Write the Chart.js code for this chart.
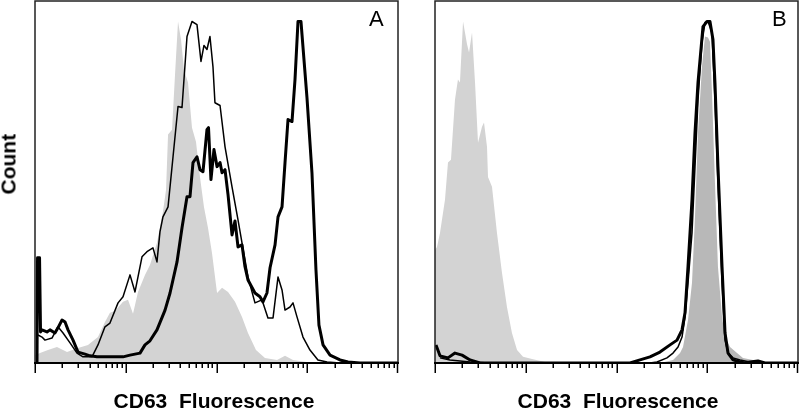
<!DOCTYPE html>
<html>
<head>
<meta charset="utf-8">
<script src="https://cdn.jsdelivr.net/npm/chart.js@4.4.0/dist/chart.umd.min.js"></script>
<style>
body{margin:0;background:#fff;width:800px;height:409px;position:relative;overflow:hidden;font-family:"Liberation Sans",Arial,sans-serif}
canvas{position:absolute;top:0}
.xlab{position:absolute;top:390px;width:300px;text-align:center;font-weight:bold;font-size:21px;line-height:21px;color:#000}
.ylab{position:absolute;left:-22px;top:154px;width:60px;text-align:center;font-weight:bold;font-size:21px;line-height:21px;transform:rotate(-90deg);color:#000}
.tag{position:absolute;top:8px;font-size:22px;line-height:22px;color:#000}
</style>
</head>
<body>
<canvas id="chartA" width="400" height="409" style="left:0"></canvas>
<canvas id="chartB" width="400" height="409" style="left:400px"></canvas>
<div class="ylab">Count</div>
<div class="xlab" style="left:64px">CD63&nbsp; Fluorescence</div>
<div class="xlab" style="left:468px">CD63&nbsp; Fluorescence</div>
<div class="tag" style="left:369px">A</div>
<div class="tag" style="left:772px">B</div>
<script>
// x = decades of fluorescence (10^0 .. 10^4), y = % of peak count

// panel A, isotype control (grey fill)
var grayAx = [0, 0.055, 0.143, 0.242, 0.353, 0.474, 0.584, 0.694, 0.771, 0.826, 0.882, 0.970, 1.025, 1.080, 1.135, 1.212, 1.267, 1.344, 1.410, 1.444, 1.466, 1.510, 1.543, 1.576, 1.609, 1.642, 1.686, 1.730, 1.774, 1.818, 1.862, 1.906, 1.950, 2.006, 2.061, 2.127, 2.204, 2.281, 2.347, 2.435, 2.534, 2.667, 2.755, 2.843, 2.997, 3.2]
var grayAy = [2.3, 2.9, 3.8, 4.7, 3.2, 4.4, 5.3, 7.6, 12.0, 14.7, 15.2, 17.9, 18.5, 14.4, 20.8, 25.8, 28.7, 35.2, 44.3, 50.7, 66.9, 68.3, 84.5, 100, 94.7, 85.9, 82.1, 68.9, 64.8, 54.5, 45.7, 39.6, 32.3, 20.5, 22.0, 20.8, 17.9, 13.5, 8.8, 3.8, 1.5, 0.9, 2.1, 0.9, 0.3, 0]

// panel A, thin line
var thinAx = [0.033, 0.077, 0.110, 0.187, 0.253, 0.309, 0.386, 0.463, 0.529, 0.628, 0.694, 0.771, 0.826, 0.915, 0.970, 1.047, 1.102, 1.179, 1.234, 1.300, 1.344, 1.377, 1.410, 1.466, 1.521, 1.576, 1.620, 1.675, 1.730, 1.785, 1.829, 1.862, 1.895, 1.928, 1.961, 1.983, 2.039, 2.094, 2.171, 2.237, 2.281, 2.347, 2.424, 2.501, 2.567, 2.623, 2.678, 2.722, 2.755, 2.810, 2.843, 2.887, 2.953, 3.030, 3.118, 3.218, 3.361, 4]
var thinAy = [8.2, 7.6, 6.7, 7.3, 10.6, 8.8, 5.9, 2.9, 1.8, 1.8, 5.3, 10.6, 11.7, 17.6, 19.4, 25.8, 20.8, 31.1, 32.6, 33.7, 29.6, 38.4, 42.8, 45.7, 60.4, 75.1, 74.8, 95.6, 100, 99.1, 88.3, 93.0, 91.8, 95.6, 86.8, 76.2, 75.4, 63.3, 51.6, 41.9, 35.2, 25.2, 17.6, 18.5, 13.2, 13.2, 25.2, 21.4, 15.5, 16.4, 17.6, 13.5, 7.6, 3.8, 0.9, 0.3, 0, 0]

// panel A, thick line
var thickAx = [0.022, 0.028, 0.050, 0.061, 0.077, 0.132, 0.165, 0.220, 0.253, 0.298, 0.331, 0.364, 0.419, 0.474, 0.551, 0.606, 0.683, 0.771, 0.882, 0.970, 1.047, 1.157, 1.212, 1.267, 1.344, 1.433, 1.488, 1.565, 1.620, 1.675, 1.708, 1.741, 1.785, 1.818, 1.851, 1.895, 1.912, 1.939, 1.972, 2.006, 2.039, 2.061, 2.094, 2.127, 2.171, 2.204, 2.237, 2.281, 2.314, 2.347, 2.424, 2.479, 2.512, 2.556, 2.590, 2.645, 2.678, 2.722, 2.755, 2.788, 2.832, 2.865, 2.898, 2.931, 2.942, 2.997, 3.052, 3.096, 3.129, 3.174, 3.251, 3.361, 3.449, 3.581, 4]
var thickAy = [0, 30.8, 30.8, 9.1, 9.7, 9.1, 9.7, 8.8, 10.3, 12.6, 12.0, 9.7, 6.7, 3.2, 2.6, 2.1, 1.8, 1.8, 1.8, 1.8, 2.3, 2.9, 5.3, 6.5, 9.7, 15.5, 20.5, 29.6, 39.6, 48.7, 48.7, 58.7, 60.4, 56.6, 56.0, 68.3, 68.9, 53.7, 62.5, 57.5, 58.7, 55.7, 56.6, 49.3, 37.5, 41.6, 34.0, 34.6, 28.2, 24.3, 20.5, 19.4, 17.9, 20.5, 27.9, 34.6, 42.8, 45.7, 58.7, 71.3, 70.7, 83.0, 100, 100, 96.2, 77.7, 55.7, 27.3, 11.1, 5.3, 2.3, 0.9, 0.3, 0, 0]

// panel B, isotype control (light grey fill)
var grayBx = [0, 0.022, 0.055, 0.110, 0.143, 0.176, 0.220, 0.253, 0.275, 0.309, 0.353, 0.375, 0.408, 0.441, 0.474, 0.518, 0.540, 0.573, 0.584, 0.628, 0.683, 0.738, 0.793, 0.848, 0.904, 0.970, 1.069, 1.212, 1.488]
var grayBy = [33.1, 34.0, 38.1, 47.8, 58.7, 59.5, 77.1, 83.0, 82.1, 100, 93.3, 90.9, 96.8, 82.1, 64.5, 69.2, 70.4, 63.3, 54.5, 51.6, 38.1, 26.4, 16.4, 8.8, 3.8, 1.8, 1.2, 0.3, 0]

// panel B, stained sample (dark grey fill)
var darkBx = [2.479, 2.623, 2.700, 2.733, 2.788, 2.832, 2.865, 2.898, 2.942, 2.975, 3.008, 3.030, 3.052, 3.085, 3.118, 3.163, 3.196, 3.251, 3.328, 3.394, 3.504, 3.636, 3.747]
var darkBy = [0, 0.9, 2.9, 4.7, 12.6, 23.5, 42.8, 67.4, 86.8, 95.6, 95.3, 94.1, 79.2, 52.8, 28.2, 13.5, 7.6, 4.7, 2.9, 1.5, 0.9, 0.3, 0]

// panel B, thin line
var thinBx = [0.055, 0.165, 0.386, 0.606, 2.369, 2.446, 2.556, 2.623, 2.678, 2.722, 2.755, 2.788, 2.832, 2.865, 2.898, 2.942, 2.975, 3.008, 3.052, 3.085, 3.118, 3.163, 3.196, 3.229, 3.284, 3.361, 3.471, 3.581, 4]
var thinBy = [1.5, 0.9, 0.3, 0, 0, 0.3, 1.5, 2.9, 4.7, 7.6, 13.5, 23.5, 38.1, 57.5, 77.1, 93.8, 99.7, 100, 96.8, 77.1, 52.8, 23.5, 6.7, 2.9, 1.5, 0.9, 0.3, 0, 0]

// panel B, thick line
var thickBx = [0.011, 0.055, 0.143, 0.220, 0.298, 0.386, 0.496, 2.149, 2.259, 2.369, 2.479, 2.590, 2.667, 2.722, 2.755, 2.788, 2.832, 2.865, 2.898, 2.953, 2.997, 3.030, 3.063, 3.085, 3.118, 3.163, 3.196, 3.229, 3.284, 3.361, 3.416, 3.471, 3.559, 3.636, 4]
var thickBy = [5.3, 2.1, 1.5, 2.9, 2.3, 0.9, 0, 0, 0.9, 1.8, 3.2, 5.3, 6.7, 9.7, 14.7, 28.2, 47.8, 67.4, 82.1, 98.5, 100, 100, 94.7, 82.1, 57.5, 28.2, 8.8, 2.9, 0.9, 0.3, 0, 0.3, 0.6, 0, 0]

var decades = [0, 1, 2, 3]
var multipliers = [1, 2, 3, 4, 5, 6, 7, 8, 9]

function pts(xs, ys) {
	return xs.map(function(x, i) { return {x: x, y: ys[i]} })
}

// box round the plot and the log ticks under it
var frame = {
	id: 'frame',
	afterDatasetsDraw: function(chart) {
		var ctx = chart.ctx, a = chart.chartArea, sx = chart.scales.x
		ctx.save()
		ctx.strokeStyle = '#222'
		ctx.lineWidth = 1.5
		ctx.strokeRect(a.left, a.top, a.right - a.left, a.bottom - a.top)
		ctx.strokeStyle = '#000'
		ctx.lineWidth = 2
		ctx.beginPath()
		ctx.moveTo(a.left - 1, a.bottom)
		ctx.lineTo(a.right + 1, a.bottom)
		ctx.stroke()
		ctx.lineWidth = 1.5
		ctx.beginPath()
		decades.forEach(function(d) {
			multipliers.forEach(function(m) {
				var px = Math.round(sx.getPixelForValue(d + Math.log10(m))) + 0.25
				ctx.moveTo(px, a.bottom)
				ctx.lineTo(px, a.bottom + (m == 1 ? 10 : 5))
			})
		})
		var last = Math.round(sx.getPixelForValue(4)) - 0.5
		ctx.moveTo(last, a.bottom)
		ctx.lineTo(last, a.bottom + 10)
		ctx.stroke()
		ctx.restore()
	}
}

function makeChart(id, sets) {
	var ctx = document.getElementById(id).getContext('2d')
	return new Chart(ctx, {
		type: 'line',
		data: {datasets: sets},
		options: {
			responsive: false,
			animation: false,
			layout: {padding: {left: 35, right: 2, top: 1, bottom: 46}},
			plugins: {legend: {display: false}, tooltip: {enabled: false}},
			elements: {point: {radius: 0}, line: {tension: 0}},
			scales: {
				x: {type: 'linear', min: 0, max: 4, display: false},
				y: {min: 0, max: 106, display: false}
			}
		},
		plugins: [frame]
	})
}

function fillSet(xs, ys, color, order) {
	return {data: pts(xs, ys), fill: 'origin', backgroundColor: color, borderColor: 'rgba(0,0,0,0)', borderWidth: 0, order: order}
}
function lineSet(xs, ys, width, order) {
	return {data: pts(xs, ys), fill: false, borderColor: '#000', borderWidth: width, borderJoinStyle: 'round', order: order}
}

makeChart('chartA', [
	fillSet(grayAx, grayAy, 'rgb(211,211,211)', 4),
	lineSet(thinAx, thinAy, 1.5, 2),
	lineSet(thickAx, thickAy, 3, 1)
])

makeChart('chartB', [
	fillSet(grayBx, grayBy, 'rgb(211,211,211)', 4),
	fillSet(darkBx, darkBy, 'rgb(184,184,184)', 3),
	lineSet(thinBx, thinBy, 1.5, 2),
	lineSet(thickBx, thickBy, 3, 1)
])
</script>
</body>
</html>
